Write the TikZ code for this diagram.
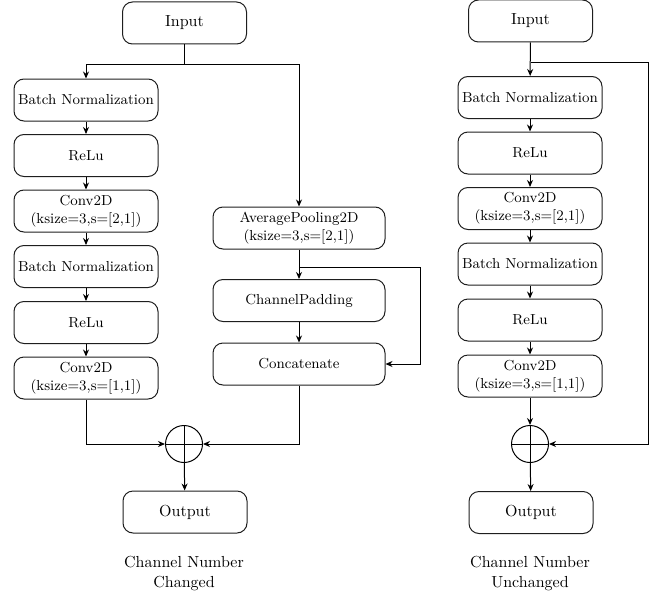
\documentclass[tikz,border=0pt]{standalone}
\usetikzlibrary{arrows.meta}
\definecolor{rand}{RGB}{30,30,30}

\begin{document}
\begin{tikzpicture}[x=0.6pt, y=-0.6pt, >={Stealth[length=4.2pt,width=3.6pt]}, line width=0.6pt,
	block/.style={draw=rand, rounded corners=6pt, minimum width=86.4pt, minimum height=25.2pt, align=center, inner sep=1pt, font=\fontsize{8.7}{10.6}\selectfont},
	io/.style={block, minimum width=74.4pt, font=\fontsize{9.6}{11}\selectfont},
	wide/.style={block, minimum width=103.2pt},
	plus/.style={draw, circle, minimum size=22.2pt, inner sep=0pt},
	caption/.style={align=center, font=\fontsize{9.6}{12}\selectfont}]

	\useasboundingbox (0,0) rectangle (656,599);

	% Channel Number Changed
	\node[io] (inL) at (184.5,23) {Input};
	\node[block] (bnL1) at (86,100) {Batch Normalization};
	\node[block] (reluL1) at (86,155.5) {ReLu};
	\node[block] (convL1) at (86,211) {Conv2D\\(ksize=3,s=[2,1])};
	\node[block] (bnL2) at (86,266.5) {Batch Normalization};
	\node[block] (reluL2) at (86,322.5) {ReLu};
	\node[block] (convL2) at (86,378) {Conv2D\\(ksize=3,s=[1,1])};
	\node[wide] (pool) at (299,228) {AveragePooling2D\\(ksize=3,s=[2,1])};
	\node[wide] (pad) at (299,300.5) {ChannelPadding};
	\node[wide] (concat) at (299,364) {Concatenate};
	\node[plus] (plusL) at (184,444) {};
	\node[io] (outL) at (185,512) {Output};
	\node[caption] (capL) at (184,573) {Channel Number\\Changed};

	\coordinate (forkL) at (184.5,65);
	\coordinate (forkP) at (299,267);
	\coordinate (skipP) at (420,364);

	\draw (plusL.north) -- (plusL.south) (plusL.west) -- (plusL.east);
	\draw (inL) -- (forkL);
	\draw[->] (forkL) -| (bnL1);
	\draw[->] (forkL) -| (pool);
	\draw[->] (bnL1) -- (reluL1);
	\draw[->] (reluL1) -- (convL1);
	\draw[->] (convL1) -- (bnL2);
	\draw[->] (bnL2) -- (reluL2);
	\draw[->] (reluL2) -- (convL2);
	\draw[->] (pool) -- (pad);
	\draw[->] (pad) -- (concat);
	\draw[->] (forkP) -| (skipP) -- (concat.east);
	\draw[->] (convL2) |- (plusL.west);
	\draw[->] (concat) |- (plusL.east);
	\draw[->] (plusL) -- (outL);

	% Channel Number Unchanged
	\node[io] (inR) at (530.5,21) {Input};
	\node[block] (bnR1) at (530,97.5) {Batch Normalization};
	\node[block] (reluR1) at (530,153) {ReLu};
	\node[block] (convR1) at (530,208.5) {Conv2D\\(ksize=3,s=[2,1])};
	\node[block] (bnR2) at (530,264) {Batch Normalization};
	\node[block] (reluR2) at (530,320) {ReLu};
	\node[block] (convR2) at (530,376) {Conv2D\\(ksize=3,s=[1,1])};
	\node[plus] (plusR) at (530,444) {};
	\node[io] (outR) at (531,512.5) {Output};
	\node[caption] (capR) at (530,573) {Channel Number\\Unchanged};

	\coordinate (forkR) at (530.5,63);
	\coordinate (skipR) at (648,63);

	\draw (plusR.north) -- (plusR.south) (plusR.west) -- (plusR.east);
	\draw[->] (inR) -- (bnR1);
	\draw[->] (bnR1) -- (reluR1);
	\draw[->] (reluR1) -- (convR1);
	\draw[->] (convR1) -- (bnR2);
	\draw[->] (bnR2) -- (reluR2);
	\draw[->] (reluR2) -- (convR2);
	\draw[->] (convR2) -- (plusR);
	\draw[->] (forkR) -- (skipR) |- (plusR.east);
	\draw[->] (plusR) -- (outR);

\end{tikzpicture}
\end{document}
